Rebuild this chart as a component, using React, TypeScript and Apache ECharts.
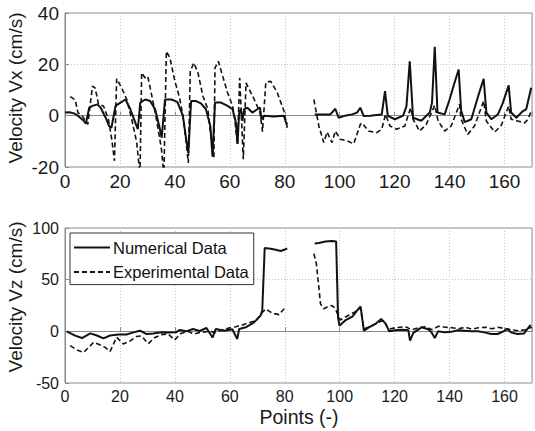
import React, { useEffect, useRef } from "react";
import * as echarts from "echarts";

// ---------- data (x = point index, y = velocity cm/s) ----------
const SERIES_NAMES = ["Numerical Data", "Experimental Data"];

const VX_NUM_A: number[][] = [
  [0, 1.2], [1.7, 1.3], [3.5, 0.8], [4.7, 0], [7, -2.2], [7.6, -3.1], [8.8, 3.1], [10, 3.8], [11.8, 4.4], [13, 3.1],
  [14.8, -0.8], [16, -4], [16.9, -4.7], [18.4, 3.8], [20.2, 5.1], [22, 6.3], [23.8, 2.5], [25.6, -2.7], [26.5, -5.3],
  [27.4, 5.1], [29.2, 6.3], [31, 5.7], [32.8, 2.5], [34.3, -4], [35.2, -8.6], [36.4, 6.3], [38.8, 6.3], [40.6, 5.5],
  [41, 5.1], [42.9, 0], [44.1, -9], [44.9, -14.5], [45.9, 5.7], [47.7, 5.7], [49.5, 4.8], [51.3, 2.5], [52.9, -4],
  [53.7, -16], [54.6, 5.1], [56.8, 5.1], [59.2, 3.8], [61, 2.5], [62.2, -2.7], [62.8, -11], [63.4, 1.2], [64, 2.5],
  [64.6, -2], [65.2, 2.5], [66.4, 3.1], [68.2, 1.2], [70, 2.5], [71, 3.1], [71.5, -1.4], [72.5, 0], [76, -0.3],
  [79.7, 0], [80.3, -2.2], [80.9, -3.4],
];
const VX_NUM_B: number[][] = [
  [90.9, 0.5], [96.6, 0.5], [98.4, 2.7], [99.6, -0.8], [102, 0], [104.5, 0.5], [106.3, 1.2], [107.5, 3.1], [108.7, -0.1],
  [111.1, 0], [113.5, 0.3], [115.3, 0.5], [116.5, 9.6], [117.5, -0.1], [120.1, -1.4], [123.1, 0], [124.3, 3.7],
  [125.5, 21.2], [126.7, -0.8], [129.7, -2], [132.8, 1.2], [133.6, 5], [134.6, 26.8], [135.6, 1.2], [138.2, 0.5],
  [140, 6.3], [141.8, 12.8], [143.3, 18], [144.2, 2], [145.5, -2.5], [147.9, -1.4], [150.4, 7.6], [152.4, 14.4],
  [153.4, 1.2], [155.2, -1.4], [157.6, 0.5], [159.4, 5], [161.5, 11.8], [162.4, 1.2], [164.3, -0.8], [166.7, 1.8],
  [167.9, 2.5], [169.7, 10.9],
];
const VX_EXP_A: number[][] = [
  [1.9, 7.4], [3.7, 6.2], [4.7, 1.2], [6.2, 0], [8.3, -3.4], [10, 11.5], [11, 10.7], [12.2, 4.4], [14, 3.8], [15.8, -1.4],
  [17, -9], [18, -17.6], [18.8, 14.4], [20.6, 10.9], [22.5, 6.3], [24.3, -1.4], [26.1, -10.4], [27.3, -23], [27.9, 16.7],
  [29.1, 14.8], [30.1, 15.4], [31.5, 8.3], [33.3, -1.4], [35.1, -13], [36, -23], [36.9, 25.1], [38.2, 22.5], [40, 13.4],
  [41.7, 7], [42.9, 0], [44.1, -10.4], [44.9, -18.4], [45.6, 17.3], [46.9, 20.6], [48.4, 16.7], [50.2, 7.6], [52, 2.5],
  [53.2, -9], [54.2, -16.4], [54.6, 18.6], [55.8, 21.2], [57.4, 15.4], [59.2, 8.9], [61, 3.8], [61.8, -1.4],
  [62.8, -11.4], [63.6, 14.8], [64.9, -17], [65.9, 12.8], [68.9, 6.3], [71, 1.2], [71.9, -6.2], [73.1, 13], [74.9, 13.4],
  [77.3, 8.9], [79.7, 1.8], [80.9, -4.7],
];
const VX_EXP_B: number[][] = [
  [90.6, 6.3], [92.4, -4], [94.2, -10.5], [95.4, -6.4], [97.2, -10.5], [98.4, -6], [100.2, -9.2], [102.7, -9.8],
  [105.1, -11], [107.5, -3.4], [108.1, -2.8], [110.5, -6], [113.5, -6.6], [115.3, -5.3], [116.7, 0.5], [118.3, -4],
  [120.7, -5.3], [123.7, -4], [125.8, 3.1], [126.7, -1.4], [129.1, -6], [131.5, -3.4], [134.6, 4], [135.8, -2],
  [138.2, -6], [140.6, -4], [143.6, 4.4], [144.2, -1.4], [146.6, -7.3], [149.1, -4], [152.4, 5.7], [153.4, -2.1],
  [156.4, -6.4], [158.8, -3.8], [161.5, 3.7], [162.4, -1.4], [164.8, -2.1], [167.3, -2.8], [168.5, -1.5], [169.7, 1.8],
];

const VZ_NUM_A: number[][] = [
  [0.6, 0], [3.7, -4.2], [6.2, -6.5], [9.2, -2], [11.6, -4], [14, -6.8], [16.4, -4], [19.4, -3], [22.4, -3], [24.9, -1],
  [27.3, 0.6], [29.7, -2.6], [32.1, -2], [35.1, -1], [37.5, -1.2], [40.5, -0.8], [41.7, 1.3], [44.2, 0], [46.6, 2.3],
  [49, 0.3], [51.5, 3.2], [53.7, -6], [54.9, 2.3], [57.9, 0.5], [60.9, 2], [62.7, -7.4], [63.4, 2.3], [65.8, 3.9],
  [68.8, 8.7], [71.2, 15.2], [71.8, 20], [72.7, 80.7], [74.8, 80], [76.7, 79], [78.5, 77.8], [80.3, 79.5], [80.9, 80.2],
];
const VZ_NUM_B: number[][] = [
  [90.9, 84.9], [92.4, 85.5], [94.8, 86.9], [97.2, 87.5], [98.7, 87], [99.4, 13.6], [99.9, 5.5], [102, 10.5],
  [104.6, 14.3], [106.3, 20.1], [107.6, 24], [108.8, 0.6], [110.6, 3.9], [113, 7.2], [115.1, 12], [116.8, 7.2],
  [118, 0], [120.2, 1], [122.6, 1.5], [125, 1], [125.6, -9], [126.8, -1.5], [129.8, 3.9], [132.2, 2], [133.4, -1],
  [134.6, -6.5], [135.8, 0], [138.2, -1], [140.6, -0.5], [143, 1], [145.5, 0.5], [147.9, 0], [150.3, 0], [152.7, -1],
  [155.1, -2.6], [157.5, -2.6], [159.9, 0.5], [161.1, 2.3], [162.3, -1], [164.7, -2.6], [167.1, -2], [169.5, 6.2],
];
const VZ_EXP_A: number[][] = [
  [1.9, -13.9], [4.3, -18], [6.8, -20.4], [8.6, -15.5], [10.4, -10.7], [12.2, -12.5], [14.6, -15.5], [16.4, -19.5],
  [18.8, -5.8], [21.2, -12.3], [23.6, -9.5], [26, -5], [27.9, -4.5], [30.3, -12], [32.7, -6], [35.1, -3.2],
  [37.5, -2.5], [39.9, -8.4], [42.2, -2], [44.6, 0], [47, -2.6], [49.4, -1], [52.5, 0], [54.9, -1], [57.3, 1.5],
  [59.7, 3.3], [62.2, 4.5], [64.6, 6.2], [67.1, 8.5], [69.5, 10.2], [71.9, 18.5], [73.1, 21.7], [75.5, 17.5],
  [77.9, 16.2], [79.7, 21.7], [80.9, 20.1],
];
const VZ_EXP_B: number[][] = [
  [90.6, 75.2], [91.5, 65.5], [92.4, 42.8], [93, 26.6], [94.2, 21.8], [95.4, 23.5], [97.2, 25], [98.4, 22.1],
  [99.4, 15.6], [100.2, 11], [103.3, 15.6], [105.7, 19], [107.6, 22.7], [108.8, 2.3], [111.8, 5.5], [114.8, 9.5],
  [116, 10.2], [117.8, 2], [120.2, 3.5], [123.9, 4.5], [126.3, 1.5], [128.7, 3.5], [131.2, 4.5], [133.6, 1.5],
  [136, 5], [138.4, 4], [140.9, 3.5], [143.3, 2.5], [145.7, 4], [148.1, 2], [150.5, 3.5], [153, 4], [155.4, 2.5],
  [157.8, 4], [160.2, 2.5], [162.6, 1.5], [165.1, 0.5], [167.5, 1.5], [169.9, 4],
];

const X_RANGE = [0, 170, 20];
const VX_RANGE = [-20, 40, 20];
const VZ_RANGE = [-50, 100, 50];
const Y_NAMES = ["Velocity Vx (cm/s)", "Velocity Vz (cm/s)"];
const X_NAME = "Points (-)";

const FONT = '"Liberation Sans", Arial, Helvetica, sans-serif';
const GAP = 86; // no data between the two measurement runs

function joined(a: number[][], b: number[][]) {
  return [...a, [GAP, "-"], ...b];
}

export default function App() {
  const ref = useRef<HTMLDivElement>(null);

  useEffect(() => {
    document.body.style.margin = "0";
    const chart = echarts.init(ref.current!, null, { renderer: "svg" });

    const xAxisBase = (gridIndex: number, fs: number) => ({
      type: "value",
      gridIndex,
      min: X_RANGE[0],
      max: X_RANGE[1],
      interval: X_RANGE[2],
      axisLine: { show: true, lineStyle: { color: "#8a8a8a", width: 1 } },
      axisTick: { show: true, inside: true, length: 4, lineStyle: { color: "#8a8a8a" } },
      splitLine: { show: true, lineStyle: { color: "#c4c4c4", type: [1, 2], width: 1 } },
      axisLabel: {
        fontFamily: FONT,
        fontSize: fs,
        color: "#1a1a1a",
        margin: 5,
        formatter: (v: number) => (v % 20 === 0 ? String(v) : ""),
      },
    });
    const yAxisBase = (gridIndex: number, r: number[], fs: number) => ({
      type: "value",
      gridIndex,
      min: r[0],
      max: r[1],
      interval: r[2],
      axisLine: { show: true, lineStyle: { color: "#8a8a8a", width: 1 } },
      axisTick: { show: true, inside: true, length: 4, lineStyle: { color: "#8a8a8a" } },
      splitLine: { show: true, lineStyle: { color: "#c4c4c4", type: [1, 2], width: 1 } },
      axisLabel: { fontFamily: FONT, fontSize: fs, color: "#1a1a1a", margin: 6 },
    });

    const solid = { color: "#111", width: 2 };
    const dashed = { color: "#111", width: 1.6, type: [5, 3] };

    const option: any = {
      animation: false,
      backgroundColor: "#fff",
      grid: [
        { left: 65, top: 13, width: 468, height: 154, show: true, borderColor: "#8a8a8a", borderWidth: 1, backgroundColor: "transparent" },
        { left: 65, top: 228, width: 468, height: 155, show: true, borderColor: "#8a8a8a", borderWidth: 1, backgroundColor: "transparent" },
      ],
      xAxis: [xAxisBase(0, 19), xAxisBase(1, 16)],
      yAxis: [yAxisBase(0, VX_RANGE, 19), yAxisBase(1, VZ_RANGE, 16)],
      legend: {
        orient: "vertical",
        left: 70,
        top: 233,
        data: SERIES_NAMES,
        itemWidth: 36,
        itemHeight: 14,
        itemGap: 7.6,
        padding: [6, 5, 4, 3],
        borderColor: "#333",
        borderWidth: 1,
        backgroundColor: "#fff",
        selectedMode: false,
        itemStyle: { opacity: 0 },
        textStyle: { fontFamily: FONT, fontSize: 16.5, color: "#111", padding: [0, 0, 0, -2] },
      },
      graphic: [
        {
          type: "text",
          x: 15,
          y: 88,
          rotation: Math.PI / 2,
          style: { text: Y_NAMES[0], fontFamily: FONT, fontSize: 19, fill: "#1a1a1a", align: "center", verticalAlign: "middle" },
        },
        {
          type: "text",
          x: 15,
          y: 297,
          rotation: Math.PI / 2,
          style: { text: Y_NAMES[1], fontFamily: FONT, fontSize: 19, fill: "#1a1a1a", align: "center", verticalAlign: "middle" },
        },
        {
          type: "text",
          x: 299,
          y: 417,
          style: { text: X_NAME, fontFamily: FONT, fontSize: 19.5, fill: "#1a1a1a", align: "center", verticalAlign: "middle" },
        },
      ],
      series: [
        { name: SERIES_NAMES[1], type: "line", xAxisIndex: 0, yAxisIndex: 0, data: joined(VX_EXP_A, VX_EXP_B), symbol: "none", lineStyle: dashed, itemStyle: { color: "#111" } },
        { name: SERIES_NAMES[0], type: "line", xAxisIndex: 0, yAxisIndex: 0, data: joined(VX_NUM_A, VX_NUM_B), symbol: "none", lineStyle: solid, itemStyle: { color: "#111" } },
        { name: SERIES_NAMES[1], type: "line", xAxisIndex: 1, yAxisIndex: 1, data: joined(VZ_EXP_A, VZ_EXP_B), symbol: "none", lineStyle: dashed, itemStyle: { color: "#111" } },
        { name: SERIES_NAMES[0], type: "line", xAxisIndex: 1, yAxisIndex: 1, data: joined(VZ_NUM_A, VZ_NUM_B), symbol: "none", lineStyle: solid, itemStyle: { color: "#111" } },
      ],
    };

    chart.setOption(option);
    return () => chart.dispose();
  }, []);

  return <div ref={ref} style={{ width: 535, height: 431 }} />;
}
